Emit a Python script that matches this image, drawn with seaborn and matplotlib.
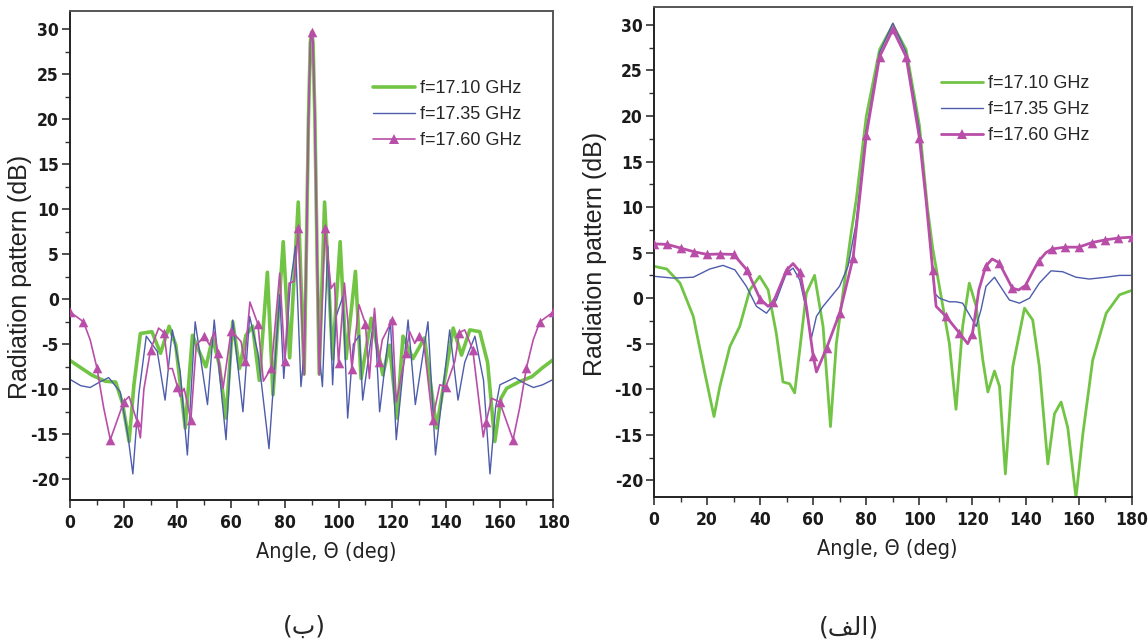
import numpy as np
import matplotlib
matplotlib.use("Agg")
import matplotlib.pyplot as plt
from matplotlib.lines import Line2D
from matplotlib.ticker import MultipleLocator
import seaborn as sns

# ---------------- data ----------------
labels = ["f=17.10 GHz", "f=17.35 GHz", "f=17.60 GHz"]

# panel (b) - left
b_green_ang = [0, 4, 8, 13, 17, 19.5, 22, 23.8, 26.2, 30.5, 33.7, 36.9, 39.4, 42.9, 45.6, 48.1, 50.6,
               53.1, 55.6, 58.1, 60.6, 63.1, 65.5, 68, 70.5, 73.5, 75.6, 79.4, 81.8, 85, 87.2,
               88, 88.8, 89.5, 90, 90.5, 91.2, 92, 92.8, 94.8, 97.8, 100.6, 102.8, 106.3, 108.4,
               112.2, 116.5, 119, 121.8, 124, 127.7, 132, 136.5, 142.7, 145.8, 148.9, 152.6, 155.5,
               158.2, 160.5, 162.6, 167, 172, 176, 180]
b_green_db = [-6.8, -7.6, -8.4, -9.1, -9.2, -11.5, -15.8, -9.5, -3.8, -3.6, -6.0, -3.0, -5.1, -14.3, -4.0, -5.8, -7.5,
              -4.3, -7.3, -13.2, -2.5, -7.7, -4.0, -3.0, -9.0, 3.0, -10.6, 6.4, -6.5, 10.8, -8.3,
              5, 20, 28.5, 29.7, 28.5, 20, 5, -8.3, 10.8, -6.6, 6.4, -6.6, 3.1, -8.8,
              -2.1, -8.4, -5.1, -13.2, -4.1, -6.6, -4.3, -14.3, -3.2, -6.2, -3.4, -3.6, -7.0,
              -15.8, -11.0, -9.9, -9.2, -8.6, -7.6, -6.7]

b_blue_ang = [0, 4, 7.5, 11, 14.4, 18.7, 21.5, 23.4, 25.6, 28.4, 32.5, 35.4, 38.1, 41, 43.7, 46.6, 51.2,
              53.7, 58.1, 60.6, 64.4, 66.9, 70, 74.1, 78.1, 79.6, 82, 84, 86, 87.2,
              88, 88.8, 89.5, 90, 90.5, 91.2, 92, 92.8, 94, 96, 97.8, 99, 101.6, 103.4, 105.5,
              107.8, 109, 113.4, 115.3, 119.3, 121.5, 125.9, 128.6, 133.3, 136.1, 141.4, 144.5,
              147, 150.8, 154, 156.4, 158.5, 160.1, 165.7, 169, 172.6, 176, 180]
b_blue_db = [-8.9, -9.6, -9.8, -9.2, -8.7, -10.3, -15.0, -19.4, -10.6, -4.1, -5.8, -11.2, -3.4, -8.0, -17.3, -2.5, -11.7,
             -2.3, -15.6, -2.3, -12.5, -1.9, -6.0, -16.6, 0.5, -8.8, 1.5, 5.9, -9.7, -6.0,
             5, 20, 28.5, 29.7, 28.5, 20, 5, -6.0, -9.7, 5.9, -9.5, -2.0, 0.3, -13.2, -5.0,
             -4.0, -11.2, -1.6, -12.5, -2.3, -15.6, -2.3, -11.7, -2.5, -17.3, -3.4, -11.2,
             -7.0, -4.1, -9.0, -19.4, -12.0, -9.5, -8.7, -9.3, -9.8, -9.5, -8.9]

b_mag_ang = [0, 5, 7.5, 10, 12.5, 15, 17.5, 20, 22, 25, 26.2, 27.5, 30, 33, 35, 36.6, 38.1, 40, 41, 42.5,
             45, 47, 50, 52, 53.7, 55, 57, 60, 63.7, 65, 67, 70, 72, 75, 78.1, 80, 81.6, 83.5, 85, 87.2,
             88, 88.8, 89.5, 90, 90.5, 91.2, 92, 92.8, 95, 97.2, 98.5, 100, 102.2, 105, 107.6, 110,
             111.5, 113.4, 115, 116.3, 120, 121.5, 125, 126.5, 128.4, 130, 131.8, 135, 137.7, 140,
             143.3, 145, 147, 150, 153.9, 155, 157, 160, 162.5, 165, 167.5, 170, 172.5, 175, 180]
b_mag_db = [-1.4, -2.5, -4.5, -7.6, -12.0, -15.6, -13.5, -11.4, -10.8, -13.6, -15.4, -10.0, -5.6, -3.2, -3.7, -7.7, -7.7, -9.7, -10.8, -9.9,
            -13.4, -5.1, -4.1, -5.1, -3.6, -6.0, -9.9, -3.5, -4.7, -6.9, -0.3, -2.8, -9.1, -7.6, 2.9, -6.9, 1.8, 2.0, 7.9, -8.4,
            5, 20, 28.5, 29.7, 28.5, 20, 5, -8.4, 7.9, 1.2, 1.8, -7.1, 1.8, -7.7, -0.6, -2.7,
            -8.8, -1.0, -7.0, -4.5, -2.3, -11.4, -6.0, -3.6, -4.9, -4.1, -4.9, -13.4, -9.5, -9.7,
            -6.9, -3.7, -3.4, -5.6, -15.3, -13.6, -11.0, -11.4, -13.5, -15.6, -12.0, -7.6, -4.5, -2.5, -1.4]

# panel (alef) - right
a_green_ang = [0, 4.8, 9.8, 14.8, 19.2, 22.6, 24.8, 28.6, 32.3, 36.1, 39.8, 43, 46.1, 48.6, 51.1, 53, 54.9,
               57.4, 60.5, 63.7, 66.5, 68.7, 71.2, 74.3, 76.2, 80, 85, 90, 95, 100, 103, 105, 108,
               111.3, 113.8, 116.3, 118.8, 121.4, 123.9, 125.8, 128.3, 130.2, 132.4, 135.2, 139.6,
               142.7, 145.2, 148.4, 150.9, 153.4, 155.9, 159, 161.6, 165.3, 170.4, 175.4, 180]
a_green_db = [3.5, 3.2, 1.65, -2.0, -8.3, -13.0, -9.7, -5.3, -3.1, 0.9, 2.4, 0.9, -3.9, -9.2, -9.4, -10.4, -5.7,
              0.55, 2.5, -3.1, -14.1, -5.0, 0.55, 7.2, 10.8, 20, 27.3, 30, 27.3, 19, 10, 5.5, 0.5,
              -5.0, -12.2, -3.1, 1.65, -0.9, -6.8, -10.3, -8.0, -9.7, -19.3, -7.5, -1.1,
              -2.4, -7.5, -18.2, -12.7, -11.4, -14.2, -21.9, -14.9, -6.8, -1.65, 0.37, 0.85]

a_blue_ang = [0, 7.3, 14.8, 21, 26, 30.5, 34.8, 38.6, 42.4, 46.1, 49.9, 52.4, 54.9, 57.4, 59.3, 61.2, 63.7,
              66.8, 69.9, 73.1, 76, 80, 85, 90, 95, 100, 103.8, 105.7, 107.5, 111.3, 113.8, 116.3,
              118.8, 121.4, 123.2, 125.1, 128.3, 131.4, 133.9, 137.7, 141.5, 145.2, 149.6, 154, 159,
              164, 170.4, 175.4, 180]
a_blue_db = [2.4, 2.2, 2.3, 3.2, 3.6, 3.1, 1.3, -0.9, -1.65, -0.2, 2.75, 3.3, 2.0, -1.3, -4.4, -2.0, -0.9,
             0.2, 1.3, 3.5, 8.0, 18.5, 27.0, 30.2, 27.0, 18.5, 7.2, 0.55, 0.0, -0.4, -0.4, -0.55,
             -1.8, -3.1, -1.3, 1.3, 2.3, 0.9, -0.2, -0.55, 0.0, 1.65, 3.0, 2.9, 2.3,
             2.1, 2.3, 2.5, 2.5]

a_mag_ang = [0, 5, 10, 15, 20, 25, 30, 35, 40, 43, 45, 50, 52.4, 55, 57.4, 60, 61.2, 65, 70, 75, 77.4,
             80, 85, 90, 95, 100, 102.5, 105, 106.3, 110, 115, 118.2, 120, 122.4, 125, 127.4, 130,
             132.7, 135, 137.4, 140, 142.5, 145, 147.7, 150, 155, 160, 165, 170, 175, 180]
a_mag_db = [5.96, 5.9, 5.5, 5.1, 4.8, 4.85, 4.8, 3.1, -0.1, -0.9, -0.4, 3.1, 3.8, 2.9, -0.9, -6.4, -8.1, -5.5, -1.6, 4.4, 10.8,
            17.9, 26.5, 29.5, 26.5, 17.6, 10.8, 3.1, -0.9, -2.0, -3.8, -5.0, -3.9, 0.9, 3.5, 4.3, 3.9,
            2.4, 1.1, 0.9, 1.4, 2.8, 4.1, 5.0, 5.4, 5.6, 5.6, 6.1, 6.4, 6.6, 6.7]

mark_step = 5  # triangles sit every 5 degrees on the 17.60 GHz curve

GREEN = "#72c445"
BLUE = "#4d5cab"
MAGENTA = "#b94ea8"

# ---------------- style ----------------
sns.set_style("ticks")
plt.rcParams["font.family"] = ["Liberation Sans", "DejaVu Sans"]
plt.rcParams["axes.unicode_minus"] = False

fig = plt.figure(figsize=(11.48, 6.44), dpi=100)
ax_b = fig.add_axes([0.0610, 0.2236, 0.4210, 0.7589])
ax_a = fig.add_axes([0.5697, 0.2287, 0.4161, 0.7609])


def draw_panel(ax, green, blue, mag, lws, ylim):
    sns.lineplot(x=green[0], y=green[1], ax=ax, color=GREEN, lw=lws[0], estimator=None, sort=False)
    sns.lineplot(x=blue[0], y=blue[1], ax=ax, color=BLUE, lw=lws[1], estimator=None, sort=False)
    sns.lineplot(x=mag[0], y=mag[1], ax=ax, color=MAGENTA, lw=lws[2], estimator=None, sort=False)
    ang = np.array(mag[0])
    keep = np.isclose(ang % mark_step, 0)
    sns.scatterplot(x=ang[keep], y=np.array(mag[1])[keep], ax=ax, marker="^", color=MAGENTA,
                    s=48, linewidth=0, zorder=5)

    ax.set_xlim(0, 180)
    ax.set_ylim(*ylim)
    ax.xaxis.set_major_locator(MultipleLocator(20))
    ax.xaxis.set_minor_locator(MultipleLocator(10))
    ax.yaxis.set_major_locator(MultipleLocator(5))
    ax.yaxis.set_minor_locator(MultipleLocator(2.5))
    ax.tick_params(which="major", direction="out", length=6, width=1.2, color="#333333", pad=2)
    ax.tick_params(which="minor", direction="out", length=3.5, width=1.0, color="#333333")
    ax.tick_params(axis="x", pad=4)
    for lab in ax.get_xticklabels() + ax.get_yticklabels():
        lab.set_family("DejaVu Sans")
        lab.set_stretch("condensed")
        lab.set_fontweight("bold")
        lab.set_fontsize(12.5)
        lab.set_color("#1a1a1a")
    for side in ["left", "bottom", "top", "right"]:
        ax.spines[side].set_color("#555555")
        ax.spines[side].set_linewidth(1.4)
    ax.spines["left"].set_color("#222222")
    ax.spines["bottom"].set_color("#222222")

    ax.set_xlabel("Angle, \u0398 (deg)", family="DejaVu Sans", stretch="condensed", fontsize=15.5,
                  color="#222222")
    ax.set_ylabel("Radiation pattern (dB)", fontsize=18, color="#222222")

    handles = [Line2D([], [], color=GREEN, lw=lws[0]),
               Line2D([], [], color=BLUE, lw=lws[1]),
               Line2D([], [], color=MAGENTA, lw=lws[2], marker="^", markersize=7, markeredgewidth=0)]
    return handles


h_b = draw_panel(ax_b, (b_green_ang, b_green_db), (b_blue_ang, b_blue_db), (b_mag_ang, b_mag_db),
                 (2.6, 1.0, 1.2), (-22.3, 32))
h_a = draw_panel(ax_a, (a_green_ang, a_green_db), (a_blue_ang, a_blue_db), (a_mag_ang, a_mag_db),
                 (2.0, 1.0, 2.0), (-21.8, 32))

ax_b.xaxis.set_label_coords(0.53, -0.085)
ax_b.yaxis.set_label_coords(-0.079, 0.457)
ax_a.xaxis.set_label_coords(0.488, -0.087)
ax_a.yaxis.set_label_coords(-0.098, 0.495)

leg_kw = dict(loc="upper left", bbox_transform=fig.transFigure, frameon=False, borderaxespad=0,
              borderpad=0, handlelength=2.3, handletextpad=0.3, labelspacing=0.5, fontsize=13)
ax_b.legend(h_b, labels, bbox_to_anchor=(373 / 1148, 1 - 80 / 644), **leg_kw)
ax_a.legend(h_a, labels, bbox_to_anchor=(941 / 1148, 1 - 75 / 644), **leg_kw)

# captions (Arabic drawn in visual order with presentation forms)
fig.text(304 / 1148, 1 - 627 / 644, "(\u0628)", ha="center", va="center", fontsize=18, family="DejaVu Sans")
fig.text(849 / 1148, 1 - 627 / 644, "(\ufed2\ufedf\u0627)", ha="center", va="center", fontsize=18,
         family="DejaVu Sans")

fig.savefig("out.png", dpi=100)
